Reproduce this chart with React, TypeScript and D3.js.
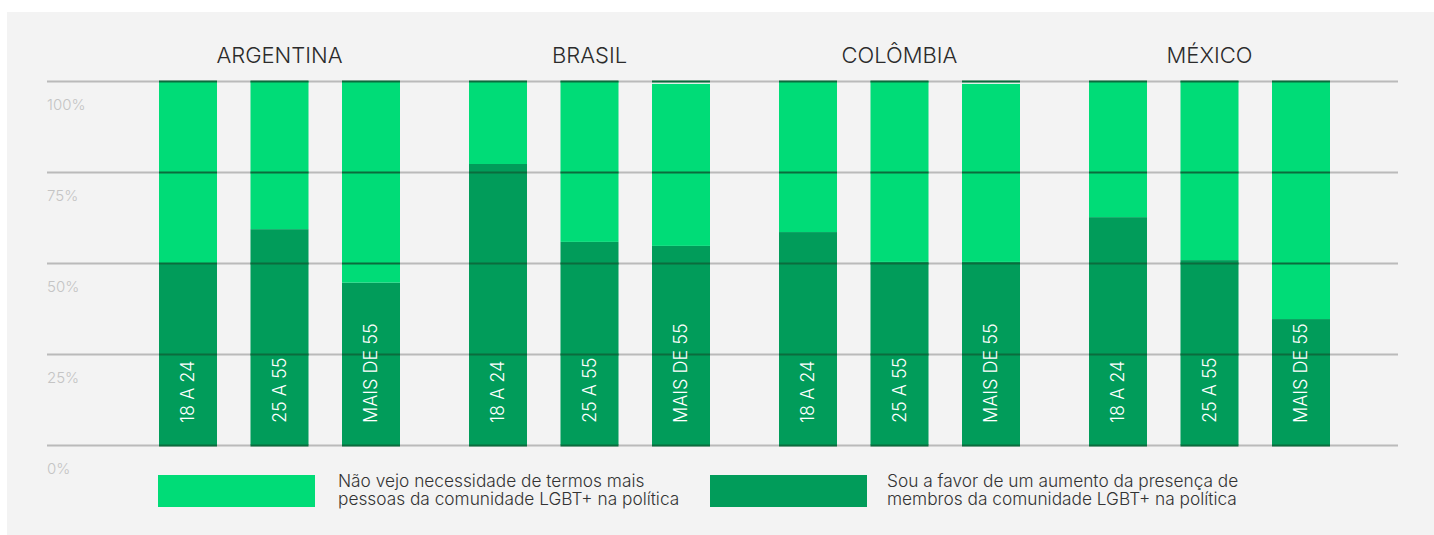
import React from "react";
import * as d3 from "d3";

const countries = ["ARGENTINA", "BRASIL", "COLÔMBIA", "MÉXICO"];
const ageGroups = ["18 A 24", "25 A 55", "MAIS DE 55"];
// "Sou a favor de um aumento da presença..." (%), per country, per age group
const favorArgentina = [50, 59.3, 44.6];
const favorBrasil = [77.2, 55.8, 54.7];
const favorColombia = [58.5, 50.3, 50.3];
const favorMexico = [62.6, 50.8, 34.6];
// "Não vejo necessidade..." (%)
const notArgentina = [50, 40.7, 55.4];
const notBrasil = [22.8, 44.2, 44.5];
const notColombia = [41.5, 49.7, 48.9];
const notMexico = [37.4, 49.2, 65.4];
const yTicks = [0, 25, 50, 75, 100];
const legendLabels = [
  ["Não vejo necessidade de termos mais", "pessoas da comunidade LGBT+ na política"],
  ["Sou a favor de um aumento da presença de", "membros da comunidade LGBT+ na política"],
];

const favorRows = [favorArgentina, favorBrasil, favorColombia, favorMexico];
const notRows = [notArgentina, notBrasil, notColombia, notMexico];

const LIGHT = "#00dc77";
const DARK = "#019c5a";
const FONT = "Inter, 'Noto Sans', sans-serif";

export default function App() {
  const W = 1434;
  const H = 535;
  const x0 = d3.scaleBand().domain(countries).range([159, 1330]).paddingInner(69 / 310).paddingOuter(0);
  const x1 = d3.scaleBand().domain(ageGroups).range([0, x0.bandwidth()]).paddingInner(33.5 / 91.5).paddingOuter(0);
  const y = d3.scaleLinear().domain([0, 100]).range([445, 81]);

  const stack = countries.flatMap((c, ci) =>
    ageGroups.map((a, ai) => {
      const f = favorRows[ci][ai];
      const n = notRows[ci][ai];
      return { c, a, x: (x0(c) as number) + (x1(a) as number), f, n };
    })
  );
  const bw = x1.bandwidth();

  return (
    <svg width={W} height={H} style={{ position: "absolute", left: 0, top: 0, display: "block" }} fontFamily={FONT}>
      <rect x={0} y={0} width={W} height={H} fill="#ffffff" />
      <rect x={7} y={12} width={W - 7} height={H - 12} fill="#f3f3f3" />

      {/* country titles */}
      {countries.map((c) => (
        <text
          key={c}
          x={(x0(c) as number) + x0.bandwidth() / 2}
          y={63}
          textAnchor="middle"
          fontSize={22}
          fontWeight={300}
          fill="#2b2b2b"
        >
          {c}
        </text>
      ))}

      {/* gridlines */}
      {yTicks.map((t) => (
        <line key={"g" + t} x1={47} x2={1398} y1={y(t) + 0.5} y2={y(t) + 0.5} stroke="#bababa" strokeWidth={2} />
      ))}
      {yTicks.map((t) => (
        <text key={"l" + t} x={47} y={y(t) + 29} fontSize={15} fontWeight={300} fill="#c4c4c4">
          {t}%
        </text>
      ))}

      {/* bars */}
      {stack.map((d) => (
        <g key={d.c + d.a}>
          <rect x={d.x} y={y(d.f)} width={bw} height={y(0) - y(d.f)} fill={DARK} />
          <rect x={d.x} y={y(d.f + d.n)} width={bw} height={y(d.f) - y(d.f + d.n)} fill={LIGHT} />
        </g>
      ))}

      {/* gridlines over bars */}
      {stack.map((d) =>
        yTicks.map((t) => (
          <line
            key={d.c + d.a + t}
            x1={d.x}
            x2={d.x + bw}
            y1={y(t) + 0.5}
            y2={y(t) + 0.5}
            stroke="#0b6c3d"
            strokeWidth={2}
          />
        ))
      )}

      {/* age labels */}
      {stack.map((d) => (
        <text
          key={"t" + d.c + d.a}
          transform={`translate(${d.x + bw / 2},${y(0) - 22}) rotate(-90)`}
          dy="0.36em"
          fontSize={18}
          fontWeight={300}
          fill="#ffffff"
        >
          {d.a}
        </text>
      ))}

      {/* legend */}
      {[LIGHT, DARK].map((col, i) => {
        const sx = i === 0 ? 158 : 710;
        const tx = i === 0 ? 338 : 887;
        return (
          <g key={col}>
            <rect x={sx} y={475} width={157} height={32} fill={col} />
            {legendLabels[i].map((line, li) => (
              <text key={li} x={tx} y={487 + li * 18} fontSize={17.3} fontWeight={300} fill="#333333">
                {line}
              </text>
            ))}
          </g>
        );
      })}
    </svg>
  );
}
